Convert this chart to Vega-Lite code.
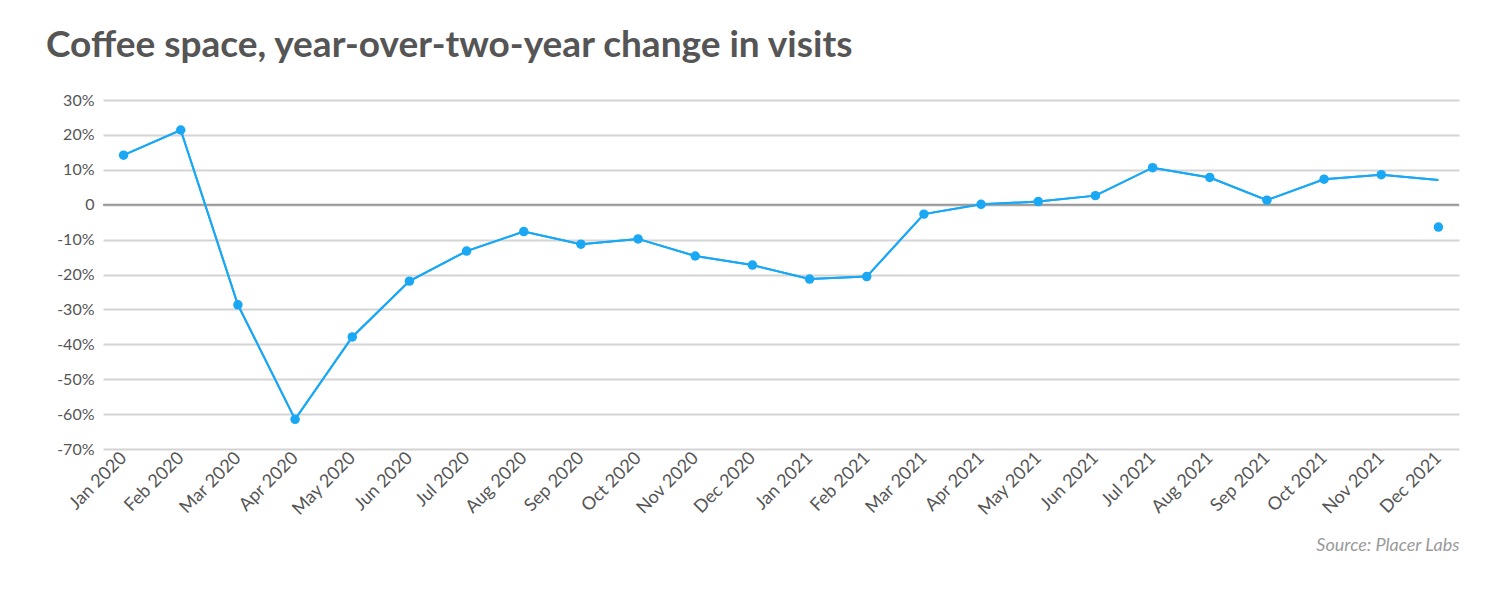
{
  "$schema": "https://vega.github.io/schema/vega-lite/v6.json",
  "width": 1356,
  "height": 349,
  "autosize": {"type": "none"},
  "padding": {"left": 103, "top": 100, "right": 41, "bottom": 141},
  "background": "white",
  "config": {"view": {"stroke": null}},
  "title": {
    "text": "Coffee space, year-over-two-year change in visits",
    "anchor": "start",
    "frame": "group",
    "dx": -57,
    "offset": -2,
    "font": "Lato",
    "fontSize": 37,
    "fontWeight": "bold",
    "color": "#555555",
    "baseline": "alphabetic"
  },
  "data": {
    "values": [
      {"month": "Jan 2020", "line": 14.2, "dot": 14.2},
      {"month": "Feb 2020", "line": 21.4, "dot": 21.4},
      {"month": "Mar 2020", "line": -28.7, "dot": -28.7},
      {"month": "Apr 2020", "line": -61.5, "dot": -61.5},
      {"month": "May 2020", "line": -37.9, "dot": -37.9},
      {"month": "Jun 2020", "line": -21.9, "dot": -21.9},
      {"month": "Jul 2020", "line": -13.3, "dot": -13.3},
      {"month": "Aug 2020", "line": -7.7, "dot": -7.7},
      {"month": "Sep 2020", "line": -11.3, "dot": -11.3},
      {"month": "Oct 2020", "line": -9.8, "dot": -9.8},
      {"month": "Nov 2020", "line": -14.7, "dot": -14.7},
      {"month": "Dec 2020", "line": -17.3, "dot": -17.3},
      {"month": "Jan 2021", "line": -21.3, "dot": -21.3},
      {"month": "Feb 2021", "line": -20.6, "dot": -20.6},
      {"month": "Mar 2021", "line": -2.7, "dot": -2.7},
      {"month": "Apr 2021", "line": 0.1, "dot": 0.1},
      {"month": "May 2021", "line": 0.9, "dot": 0.9},
      {"month": "Jun 2021", "line": 2.6, "dot": 2.6},
      {"month": "Jul 2021", "line": 10.6, "dot": 10.6},
      {"month": "Aug 2021", "line": 7.8, "dot": 7.8},
      {"month": "Sep 2021", "line": 1.3, "dot": 1.3},
      {"month": "Oct 2021", "line": 7.3, "dot": 7.3},
      {"month": "Nov 2021", "line": 8.6, "dot": 8.6},
      {"month": "Dec 2021", "line": 7.1, "dot": -6.4}
    ]
  },
  "encoding": {
    "x": {
      "field": "month",
      "type": "ordinal",
      "sort": null,
      "scale": {"type": "point", "padding": 0.36},
      "axis": {
        "title": "Source: Placer Labs",
        "titleFont": "Lato",
        "titleFontSize": 18,
        "titleFontStyle": "italic",
        "titleFontWeight": "normal",
        "titleColor": "#9a9a9a",
        "titleAnchor": "end",
        "titleAlign": "right",
        "titlePadding": 18,
        "labelAngle": -45,
        "labelAlign": "right",
        "labelBaseline": "middle",
        "labelFont": "Lato",
        "labelFontSize": 18,
        "labelColor": "#555555",
        "labelPadding": 6,
        "labelOverlap": false,
        "domain": false,
        "ticks": false,
        "grid": false
      }
    }
  },
  "layer": [
    {
      "mark": {"type": "line", "color": "#1aa8f5", "strokeWidth": 2},
      "encoding": {
        "y": {
          "field": "line",
          "type": "quantitative",
          "scale": {"domain": [-70, 30], "nice": false},
          "axis": {
            "title": null,
            "values": [-70, -60, -50, -40, -30, -20, -10, 0, 10, 20, 30],
            "labelExpr": "datum.value == 0 ? '0' : datum.value + '%'",
            "labelFont": "Lato",
            "labelFontSize": 16,
            "labelColor": "#555555",
            "labelPadding": 9,
            "labelOverlap": false,
            "domain": false,
            "ticks": false,
            "grid": true,
            "gridColor": "#d4d4d4",
            "gridWidth": 2
          }
        }
      }
    },
    {
      "mark": {"type": "rule", "color": "#999999", "strokeWidth": 2},
      "data": {"values": [{"zero": 0}]},
      "encoding": {
        "y": {
          "field": "zero",
          "type": "quantitative",
          "scale": {"domain": [-70, 30], "nice": false},
          "axis": {
            "title": null,
            "values": [-70, -60, -50, -40, -30, -20, -10, 0, 10, 20, 30],
            "labelExpr": "datum.value == 0 ? '0' : datum.value + '%'",
            "labelFont": "Lato",
            "labelFontSize": 16,
            "labelColor": "#555555",
            "labelPadding": 9,
            "labelOverlap": false,
            "domain": false,
            "ticks": false,
            "grid": true,
            "gridColor": "#d4d4d4",
            "gridWidth": 2
          }
        },
        "x": {"value": 0},
        "x2": {"value": 1356}
      }
    },
    {
      "mark": {"type": "line", "color": "#1aa8f5", "strokeWidth": 2},
      "encoding": {
        "y": {
          "field": "line",
          "type": "quantitative",
          "scale": {"domain": [-70, 30], "nice": false},
          "axis": {
            "title": null,
            "values": [-70, -60, -50, -40, -30, -20, -10, 0, 10, 20, 30],
            "labelExpr": "datum.value == 0 ? '0' : datum.value + '%'",
            "labelFont": "Lato",
            "labelFontSize": 16,
            "labelColor": "#555555",
            "labelPadding": 9,
            "labelOverlap": false,
            "domain": false,
            "ticks": false,
            "grid": true,
            "gridColor": "#d4d4d4",
            "gridWidth": 2
          }
        }
      }
    },
    {
      "mark": {"type": "point", "filled": true, "color": "#1aa8f5", "size": 90, "opacity": 1},
      "encoding": {
        "y": {
          "field": "dot",
          "type": "quantitative",
          "scale": {"domain": [-70, 30], "nice": false},
          "axis": {
            "title": null,
            "values": [-70, -60, -50, -40, -30, -20, -10, 0, 10, 20, 30],
            "labelExpr": "datum.value == 0 ? '0' : datum.value + '%'",
            "labelFont": "Lato",
            "labelFontSize": 16,
            "labelColor": "#555555",
            "labelPadding": 9,
            "labelOverlap": false,
            "domain": false,
            "ticks": false,
            "grid": true,
            "gridColor": "#d4d4d4",
            "gridWidth": 2
          }
        }
      }
    }
  ]
}
